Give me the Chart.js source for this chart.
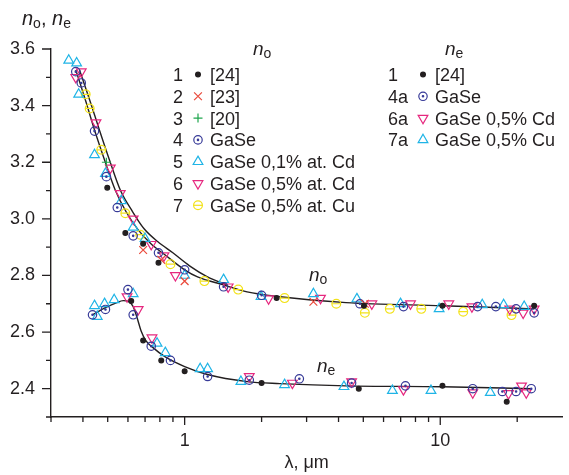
<!DOCTYPE html>
<html>
<head>
<meta charset="utf-8">
<script src="https://cdn.jsdelivr.net/npm/chart.js@4.4.1/dist/chart.umd.min.js"></script>
<style>
  html, body { margin: 0; padding: 0; background: #fff; }
  #wrap { width: 569px; height: 475px; }
</style>
</head>
<body>
<div id="wrap"><canvas id="chart" width="569" height="475"></canvas></div>
<script>
// ------------------------------------------------------------
// Data: [wavelength, um ; refractive index]
// ------------------------------------------------------------

// ordinary ray, n_o
const noRef24 = [[0.498,3.11],[0.586,2.95],[0.688,2.912],[0.79,2.845],[2.29,2.72],[5.03,2.693],[10.2,2.693],[23.3,2.693]];
const noRef23 = [[0.688,2.89],[0.81,2.855],[1.0,2.78],[3.19,2.707],[5.07,2.70]];
const noRef20 = [[0.494,3.20]];
const noGaSe  = [[0.375,3.52],[0.394,3.48],[0.444,3.31],[0.494,3.149],[0.545,3.04],[0.629,2.94],[0.79,2.88],[1.0,2.82],[1.42,2.76],[2.0,2.73],[4.85,2.70],[7.18,2.69],[14.0,2.69],[16.5,2.69],[19.8,2.682],[23.3,2.668]];
const noCd01  = [[0.352,3.56],[0.378,3.55],[0.385,3.44],[0.444,3.226],[0.49,3.16],[0.565,3.064],[0.629,2.97],[0.70,2.93],[1.0,2.80],[1.42,2.785],[1.99,2.725],[3.19,2.735],[4.72,2.717],[6.99,2.70],[9.9,2.682],[14.6,2.696],[17.7,2.696],[21.3,2.69]];
const noCd05  = [[0.375,3.50],[0.394,3.52],[0.45,3.34],[0.512,3.18],[0.56,3.09],[0.629,3.00],[0.74,2.91],[0.83,2.87],[0.92,2.80],[1.48,2.76],[2.13,2.718],[3.4,2.72],[5.4,2.70],[7.65,2.70],[10.8,2.70],[13.3,2.69],[18.7,2.682],[21.1,2.668],[23.3,2.682]];
const noCu05  = [[0.41,3.44],[0.425,3.39],[0.472,3.244],[0.586,3.02],[0.67,2.944],[0.88,2.84],[1.195,2.78],[1.62,2.75],[2.46,2.72],[3.92,2.70],[5.07,2.668],[6.35,2.682],[8.43,2.682],[12.3,2.672],[19.0,2.66]];

// extraordinary ray, n_e
const neRef24 = [[0.618,2.71],[0.688,2.57],[0.81,2.50],[1.0,2.462],[2.0,2.42],[4.8,2.40],[10.2,2.41],[18.2,2.354]];
const neGaSe  = [[0.436,2.661],[0.49,2.68],[0.60,2.75],[0.629,2.661],[0.74,2.55],[0.88,2.50],[1.23,2.443],[1.79,2.43],[2.81,2.435],[4.5,2.42],[7.31,2.41],[13.4,2.40],[17.5,2.39],[19.8,2.39],[22.7,2.40]];
const neCd05  = [[0.595,2.725],[0.658,2.68],[0.745,2.58],[1.79,2.443],[2.64,2.42],[4.5,2.425],[7.18,2.397],[13.4,2.386],[18.5,2.383],[20.8,2.41],[21.7,2.386]];
const neCu05  = [[0.444,2.693],[0.455,2.655],[0.486,2.70],[0.53,2.714],[0.629,2.735],[0.78,2.56],[0.84,2.527],[1.15,2.47],[1.23,2.47],[1.66,2.425],[2.46,2.414],[4.2,2.407],[6.5,2.393],[9.2,2.393],[15.7,2.386]];

// fitted dispersion curves (n_o drawn as two close lines at short wavelengths)
const noFitA = [[0.375,3.526],[0.409,3.42],[0.444,3.314],[0.486,3.208],[0.535,3.102],[0.59,3.025],[0.658,2.961],[0.738,2.912],[0.837,2.873],[1.0,2.82],[1.123,2.795],[1.416,2.767],[1.755,2.742],[2.36,2.725],[4.28,2.704],[10.2,2.693],[23.3,2.682]];
const noFitB = [[0.388,3.526],[0.425,3.42],[0.464,3.314],[0.508,3.208],[0.56,3.102],[0.626,3.025],[0.694,2.965],[0.786,2.919],[0.899,2.88],[1.045,2.834],[1.228,2.795],[1.468,2.766]];
const neFit  = [[0.436,2.661],[0.49,2.686],[0.54,2.703],[0.575,2.711],[0.607,2.707],[0.629,2.69],[0.652,2.65],[0.675,2.605],[0.705,2.57],[0.752,2.545],[0.837,2.513],[1.0,2.478],[1.228,2.45],[1.755,2.425],[2.36,2.418],[4.28,2.41],[10.2,2.407],[22.7,2.40]];

// axis ticks
const xMajorTicks = [1, 10];
const xMinorTicks = [0.3, 0.4, 0.5, 0.6, 0.7, 0.8, 0.9, 2, 3, 4, 5, 6, 7, 8, 9, 20];
const yMajorTicks = [2.4, 2.6, 2.8, 3.0, 3.2, 3.4, 3.6];
const yMinorTicks = [2.3, 2.5, 2.7, 2.9, 3.1, 3.3, 3.5];

// legend text
const legendNo = [['1', '[24]'], ['2', '[23]'], ['3', '[20]'], ['4', 'GaSe'],
                  ['5', 'GaSe 0,1% at. Cd'], ['6', 'GaSe 0,5% at. Cd'], ['7', 'GaSe 0,5% at. Cu']];
const legendNe = [['1', '[24]'], ['4a', 'GaSe'], ['6a', 'GaSe 0,5% Cd'], ['7a', 'GaSe 0,5% Cu']];

// ------------------------------------------------------------
const INK = '#231f20';
const RED = '#ea4a3c';
const GREEN = '#1fa64e';
const BLUE = '#373a98';
const CYAN = '#1fb4e6';
const MAGENTA = '#e6287f';
const YELLOW = '#f2e21a';
const FONT = '"Liberation Sans", Arial, Helvetica, sans-serif';

// marker styles; ⊙ and ⊖ are a hollow circle plus an inner mark
const ST = {
    dot:  { pointStyle: 'circle', radius: 2.4, color: INK, fill: INK },
    x:    { pointStyle: 'crossRot', radius: 5.5, color: RED },
    plus: { pointStyle: 'cross', radius: 4.5, color: GREEN },
    gase: { pointStyle: 'circle', radius: 4.2, color: BLUE,
            inner: { pointStyle: 'circle', radius: 0.7, color: BLUE, fill: BLUE } },
    up:   { pointStyle: 'triangle', radius: 5.6, color: CYAN },
    down: { pointStyle: 'triangle', rotation: 180, radius: 5.6, color: MAGENTA },
    cu:   { pointStyle: 'circle', radius: 4.4, color: YELLOW,
            inner: { pointStyle: 'line', radius: 4.4, color: YELLOW } },
};

const toXY = arr => arr.map(([x, y]) => ({ x, y }));

function pointSet(label, data, st) {
    return {
        label,
        data: toXY(data),
        pointStyle: st.pointStyle,
        pointRadius: st.radius,
        pointHoverRadius: st.radius,
        pointRotation: st.rotation || 0,
        pointBorderColor: st.color,
        pointBackgroundColor: st.fill || 'rgba(0,0,0,0)',
        pointBorderWidth: 1.2,
        showLine: false,
    };
}

function marks(label, data, st) {
    const sets = [pointSet(label, data, st)];
    if (st.inner) sets.push(pointSet(label + ' (centre)', data, st.inner));
    return sets;
}

function fit(label, data) {
    return {
        label,
        data: toXY(data),
        showLine: true,
        borderColor: INK,
        borderWidth: 1.4,
        pointRadius: 0,
        cubicInterpolationMode: 'monotone',
        fill: false,
    };
}

// n with an upright subscript
function nSub(ctx, x, y, sub, size) {
    ctx.font = `italic ${size}px ${FONT}`;
    ctx.fillText('n', x, y);
    const w = ctx.measureText('n').width;
    const s = Math.round(size * 0.72);
    ctx.font = `${s}px ${FONT}`;
    ctx.fillText(sub, x + w, y + size * 0.16);
    return x + w + ctx.measureText(sub).width;
}

function drawMark(ctx, st, x, y) {
    ctx.save();
    ctx.strokeStyle = st.color;
    ctx.fillStyle = st.fill || 'rgba(0,0,0,0)';
    ctx.lineWidth = 1.2;
    Chart.helpers.drawPoint(ctx, {
        pointStyle: st.pointStyle, radius: st.radius, rotation: st.rotation || 0, borderWidth: 1.2
    }, x, y);
    ctx.restore();
    if (st.inner) drawMark(ctx, st.inner, x, y);
}

const decor = {
    id: 'decor',
    afterDraw(chart) {
        const ctx = chart.ctx;
        const xs = chart.scales.x, ys = chart.scales.y;
        const area = chart.chartArea;
        ctx.save();

        // tick marks
        ctx.strokeStyle = INK;
        ctx.lineWidth = 1.3;
        ctx.beginPath();
        xMajorTicks.concat(xMinorTicks).forEach(v => {
            const px = xs.getPixelForValue(v);
            const len = xMajorTicks.includes(v) ? 8 : 5;
            ctx.moveTo(px, area.bottom); ctx.lineTo(px, area.bottom + len);
        });
        yMajorTicks.concat(yMinorTicks).forEach(v => {
            const py = ys.getPixelForValue(v);
            const len = yMajorTicks.includes(v) ? 9 : 5;
            ctx.moveTo(area.left, py); ctx.lineTo(area.left - len, py);
        });
        ctx.stroke();

        ctx.fillStyle = INK;
        ctx.textBaseline = 'alphabetic';
        ctx.textAlign = 'left';

        // y axis title: n_o, n_e
        let x = nSub(ctx, 22, 25, 'o', 20);
        ctx.font = `20px ${FONT}`;
        ctx.fillText(', ', x, 25);
        x += ctx.measureText(', ').width;
        nSub(ctx, x, 25, 'e', 20);

        // curve labels
        nSub(ctx, 309, 281, 'o', 19);
        nSub(ctx, 317, 372, 'e', 19);

        // legend, n_o column
        nSub(ctx, 253, 55, 'o', 19);
        const noStyles = [ST.dot, ST.x, ST.plus, ST.gase, ST.up, ST.down, ST.cu];
        legendNo.forEach(([num, txt], i) => {
            const base = 81 + 21.8 * i;
            ctx.fillStyle = INK;
            ctx.font = `18px ${FONT}`;
            ctx.fillText(num, 173, base);
            ctx.fillText(txt, 210, base);
            drawMark(ctx, noStyles[i], 198, base - 6.5);
        });

        // legend, n_e column
        nSub(ctx, 445, 55, 'e', 19);
        const neStyles = [ST.dot, ST.gase, ST.down, ST.up];
        legendNe.forEach(([num, txt], i) => {
            const base = 81 + 21.8 * i;
            ctx.fillStyle = INK;
            ctx.font = `18px ${FONT}`;
            ctx.fillText(num, 388, base);
            ctx.fillText(txt, 435, base);
            drawMark(ctx, neStyles[i], 423, base - 6.5);
        });

        ctx.restore();
    }
};

new Chart(document.getElementById('chart'), {
    type: 'scatter',
    data: {
        datasets: [
            ...marks('1 [24]', noRef24, ST.dot),
            ...marks('2 [23]', noRef23, ST.x),
            ...marks('3 [20]', noRef20, ST.plus),
            ...marks('4 GaSe', noGaSe, ST.gase),
            ...marks('5 GaSe 0,1% at. Cd', noCd01, ST.up),
            ...marks('6 GaSe 0,5% at. Cd', noCd05, ST.down),
            ...marks('7 GaSe 0,5% at. Cu', noCu05, ST.cu),
            ...marks('1 [24] ne', neRef24, ST.dot),
            ...marks('4a GaSe', neGaSe, ST.gase),
            ...marks('6a GaSe 0,5% Cd', neCd05, ST.down),
            ...marks('7a GaSe 0,5% Cu', neCu05, ST.up),
            fit('no fit', noFitA),
            fit('no fit 2', noFitB),
            fit('ne fit', neFit),
        ]
    },
    options: {
        responsive: false,
        animation: false,
        layout: { padding: { top: 49, right: 1, left: 0, bottom: 0 } },
        plugins: {
            legend: { display: false },
            tooltip: { enabled: false },
        },
        scales: {
            x: {
                type: 'logarithmic',
                position: 'bottom',
                min: 0.3,
                max: 30,
                afterBuildTicks: s => { s.ticks = xMajorTicks.map(v => ({ value: v })); },
                afterFit: s => { s.height = 58; },
                ticks: {
                    callback: v => String(v),
                    color: INK,
                    font: { size: 18, family: FONT },
                    padding: 13,
                    maxRotation: 0,
                    autoSkip: false,
                },
                grid: { display: false, drawTicks: false },
                border: { color: INK, width: 1.4 },
                title: {
                    display: true,
                    text: 'λ, μm',
                    color: INK,
                    font: { size: 18, family: FONT },
                    padding: { top: 0, bottom: 1 },
                },
            },
            y: {
                type: 'linear',
                min: 2.3,
                max: 3.6,
                afterBuildTicks: s => { s.ticks = yMajorTicks.map(v => ({ value: v })); },
                afterFit: s => { s.width = 51; },
                ticks: {
                    callback: v => v.toFixed(1),
                    color: INK,
                    font: { size: 18, family: FONT },
                    padding: 16,
                },
                grid: { display: false, drawTicks: false },
                border: { color: INK, width: 1.4 },
            },
        },
    },
    plugins: [decor],
});
</script>
</body>
</html>
